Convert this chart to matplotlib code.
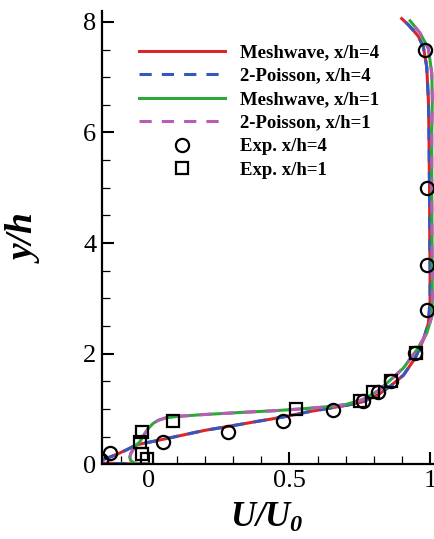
import matplotlib
matplotlib.use("Agg")
import matplotlib.pyplot as plt
from matplotlib.ticker import MultipleLocator, FixedLocator

plt.rcParams["font.family"] = ["Liberation Serif", "DejaVu Serif"]
plt.rcParams["mathtext.fontset"] = "custom"
plt.rcParams["mathtext.it"] = "Liberation Serif:italic:bold"
plt.rcParams["mathtext.rm"] = "Liberation Serif:italic:bold"
plt.rcParams["mathtext.bf"] = "Liberation Serif:italic:bold"

# Streamwise velocity profiles U/U0 versus height y/h
u_x4 = [0.0, -0.06, -0.12, -0.18, -0.2, -0.185, -0.165, -0.139, -0.11, -0.08,
        -0.044, 0.039, 0.122, 0.2, 0.282, 0.383, 0.476, 0.573, 0.644, 0.71,
        0.76, 0.816, 0.86, 0.905, 0.947, 0.976, 0.994, 1.0, 1.0, 0.999,
        0.998, 0.996, 0.994, 0.988, 0.976, 0.958, 0.94, 0.92, 0.899]
y_x4 = [0.0, 0.008, 0.015, 0.025, 0.04, 0.055, 0.085, 0.13, 0.19, 0.26,
        0.352, 0.44, 0.53, 0.615, 0.684, 0.774, 0.853, 0.955, 1.016, 1.075,
        1.13, 1.26, 1.42, 1.61, 1.92, 2.25, 2.55, 2.97, 3.5, 4.0,
        5.0, 6.0, 6.59, 7.19, 7.55, 7.74, 7.85, 7.96, 8.06]

u_x1 = [0.0, -0.035, -0.055, -0.065, -0.068, -0.064, -0.055, -0.044, -0.032,
        -0.014, -0.002, 0.015, 0.033, 0.06, 0.1, 0.18, 0.336, 0.45, 0.523,
        0.6, 0.644, 0.7, 0.76, 0.816, 0.86, 0.905, 0.953, 0.988, 1.006,
        1.008, 1.007, 1.006, 1.006, 1.008, 1.006, 0.994, 0.964, 0.945, 0.929]
y_x1 = [0.0, 0.008, 0.03, 0.07, 0.13, 0.2, 0.28, 0.35, 0.41,
        0.56, 0.65, 0.74, 0.795, 0.84, 0.865, 0.895, 0.94, 0.97, 0.995,
        1.025, 1.045, 1.08, 1.17, 1.33, 1.53, 1.74, 2.07, 2.37, 2.67,
        3.0, 4.0, 5.0, 6.0, 6.6, 7.07, 7.52, 7.8, 7.92, 8.02]

# Measured profiles
exp_u_x4 = [-0.17, -0.139, 0.051, 0.282, 0.476, 0.655, 0.76, 0.816, 0.86,
            0.947, 0.99, 0.988, 0.988, 0.982]
exp_y_x4 = [0.08, 0.2, 0.40, 0.58, 0.79, 0.99, 1.15, 1.30, 1.50,
            2.01, 2.79, 3.61, 4.99, 7.49]

exp_u_x1 = [-0.008, -0.026, -0.032, -0.026, 0.084, 0.523, 0.75, 0.797, 0.86, 0.95]
exp_y_x1 = [0.10, 0.19, 0.40, 0.59, 0.79, 0.995, 1.14, 1.30, 1.50, 2.02]

labels = ["Meshwave, x/h=4", "2-Poisson, x/h=4", "Meshwave, x/h=1",
          "2-Poisson, x/h=1", "Exp. x/h=4", "Exp. x/h=1"]
x_ticks = [0, 0.5, 1, 1.5]
x_tick_labels = ["0", "0.5", "1", "1.5"]
y_ticks = [0, 2, 4, 6, 8]

RED = "#d8262a"
BLUE = "#3558c0"
GREEN = "#2ea83a"
MAGENTA = "#b95cb8"
LW = 2.2
DASH = (4.0, 3.3)

fig = plt.figure(figsize=(4.34, 5.39), dpi=100)
ax = fig.add_axes([0.2343, 0.1386, 0.951, 0.8413])

l1, = ax.plot(u_x4, y_x4, color=RED, lw=LW, label=labels[0])
l2, = ax.plot(u_x4, y_x4, color=BLUE, lw=LW, dashes=DASH, label=labels[1])
l3, = ax.plot(u_x1, y_x1, color=GREEN, lw=LW, label=labels[2])
l4, = ax.plot(u_x1, y_x1, color=MAGENTA, lw=LW, dashes=DASH, label=labels[3])
l5, = ax.plot(exp_u_x4, exp_y_x4, ls="none", marker="o", ms=9.5, mfc="none",
              mec="black", mew=1.6, label=labels[4])
l6, = ax.plot(exp_u_x1, exp_y_x1, ls="none", marker="s", ms=8.0, mfc="none",
              mec="black", mew=1.6, label=labels[5])

ax.set_xlim(-0.168, 1.3)
ax.set_ylim(0, 8.2)

for side in ("top", "right"):
    ax.spines[side].set_visible(False)
for side in ("left", "bottom"):
    ax.spines[side].set_linewidth(1.6)

ax.xaxis.set_major_locator(FixedLocator(x_ticks))
ax.set_xticklabels(x_tick_labels)
ax.xaxis.set_minor_locator(MultipleLocator(0.1))
ax.yaxis.set_major_locator(FixedLocator(y_ticks))
ax.yaxis.set_minor_locator(MultipleLocator(0.5))
ax.tick_params(which="both", direction="in", top=False, right=False)
ax.tick_params(which="major", length=8.5, width=1.5, labelsize=19, pad=4)
ax.tick_params(which="minor", length=5.5, width=0.9)

fig.text(26 / 434, 1 - 239 / 539, "y/h", rotation=90, ha="center", va="center",
         fontsize=27, fontweight="bold", fontstyle="italic")
fig.text(267 / 434, 12 / 539, "$U/U_0$", ha="center", va="baseline", fontsize=25)

ax.legend(handles=[l1, l2, l3, l4, l5, l6], loc="upper left",
          bbox_to_anchor=(139 / 434, 1 - 44 / 539), bbox_transform=fig.transFigure,
          frameon=False, borderpad=0, borderaxespad=0, handlelength=4.6,
          handletextpad=0.8, labelspacing=0.34, numpoints=1,
          prop={"family": "Liberation Serif", "weight": "bold", "size": 13.5})

fig.savefig("out.png", dpi=100)
